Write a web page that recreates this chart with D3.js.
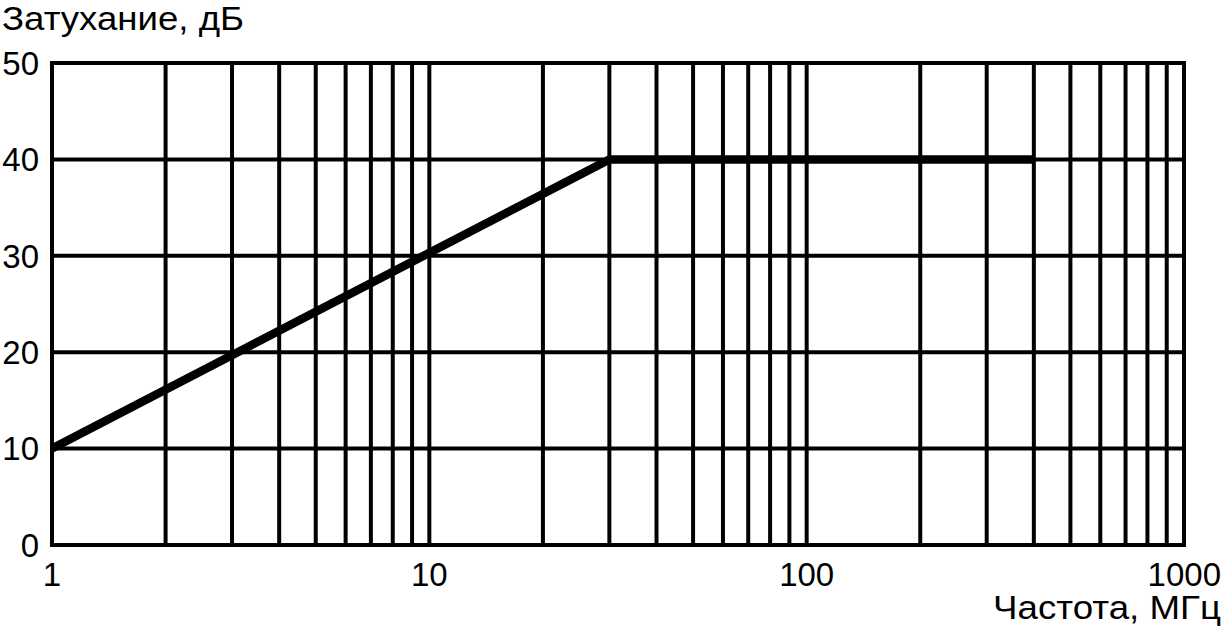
<!DOCTYPE html>
<html>
<head>
<meta charset="utf-8">
<script src="https://cdn.jsdelivr.net/npm/d3@7"></script>
<style>
  body { margin: 0; background: #fff; }
  svg text { font-family: "Liberation Sans", Arial, sans-serif; fill: #000; }
</style>
</head>
<body>
<svg id="chart" width="1223" height="631"></svg>
<script>
// attenuation vs frequency (MHz, dB)
const freqMHz = [1, 30, 400];
const attenDb = [10, 40, 40];
const xTickLabels = [1, 10, 100, 1000];
const yTickLabels = [0, 10, 20, 30, 40, 50];

const svg = d3.select("#chart");
const margin = { left: 52, right: 39, top: 63, bottom: 86 };
const width = 1223, height = 631;

const x = d3.scaleLog().domain([1, 1000]).range([margin.left, width - margin.right]);
const y = d3.scaleLinear().domain([0, 50]).range([height - margin.bottom, margin.top]);

// vertical grid: every 1..9 of each decade
const gridX = [];
for (let d = 1; d <= 100; d *= 10) {
    for (let k = 1; k < 10; k++) gridX.push(d * k);
}
gridX.push(1000);

svg.append("g")
    .selectAll("line")
    .data(gridX)
    .join("line")
    .attr("x1", d => x(d)).attr("x2", d => x(d))
    .attr("y1", y(0)).attr("y2", y(50))
    .attr("stroke", "#000")
    .attr("stroke-width", 4);

svg.append("g")
    .selectAll("line")
    .data(yTickLabels)
    .join("line")
    .attr("x1", x(1) - 2).attr("x2", x(1000) + 2)
    .attr("y1", d => y(d)).attr("y2", d => y(d))
    .attr("stroke", "#000")
    .attr("stroke-width", 4);

// curve
const pts = freqMHz.map((f, i) => [f, attenDb[i]]);
svg.append("path")
    .datum(pts)
    .attr("d", d3.line().x(d => x(d[0])).y(d => y(d[1])))
    .attr("fill", "none")
    .attr("stroke", "#000")
    .attr("stroke-width", 8.5);

// y tick labels
svg.append("g")
    .selectAll("text")
    .data(yTickLabels)
    .join("text")
    .attr("x", 39)
    .attr("y", d => y(d))
    .attr("dy", "0.36em")
    .attr("text-anchor", "end")
    .attr("font-size", 33)
    .text(d => d);

// x tick labels
svg.append("g")
    .selectAll("text")
    .data(xTickLabels)
    .join("text")
    .attr("x", d => d === 1000 ? 1221 : x(d))
    .attr("y", 586)
    .attr("text-anchor", d => d === 1000 ? "end" : "middle")
    .attr("font-size", 33)
    .text(d => d);

// axis titles (reference font is wider, so stretch to its width)
svg.append("text")
    .attr("x", 2)
    .attr("y", 30)
    .attr("font-size", 33)
    .attr("textLength", 242)
    .attr("lengthAdjust", "spacingAndGlyphs")
    .text("Затухание, дБ");

svg.append("text")
    .attr("x", 993)
    .attr("y", 619)
    .attr("font-size", 33)
    .attr("textLength", 228)
    .attr("lengthAdjust", "spacingAndGlyphs")
    .text("Частота, МГц");
</script>
</body>
</html>
